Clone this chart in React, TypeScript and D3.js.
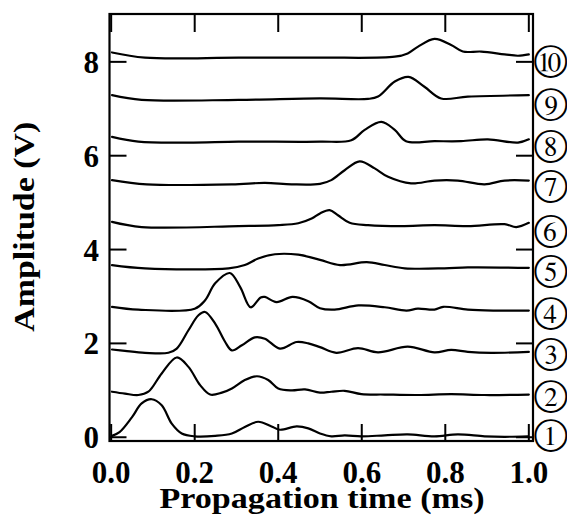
import React from "react";
import * as d3 from "d3";

type P = [number, number];

const trace1: P[] = [[0.002,0.03],[0.02,0.11],[0.05,0.43],[0.073,0.72],[0.097,0.81],[0.121,0.68],[0.145,0.29],[0.169,0.08],[0.2,0.02],[0.249,0.03],[0.289,0.08],[0.32,0.22],[0.352,0.33],[0.384,0.23],[0.404,0.16],[0.444,0.23],[0.472,0.19],[0.5,0.08],[0.527,0.02],[0.559,0.04],[0.599,0.02],[0.655,0.04],[0.71,0.06],[0.774,0.02],[0.83,0.06],[0.894,0.02],[0.942,0.01],[0.998,0.02]];
const trace2: P[] = [[0.002,0.97],[0.033,0.93],[0.065,0.90],[0.089,0.97],[0.121,1.36],[0.157,1.70],[0.185,1.50],[0.213,1.11],[0.237,0.91],[0.265,0.95],[0.289,1.04],[0.32,1.22],[0.349,1.30],[0.376,1.22],[0.4,1.04],[0.432,1.00],[0.464,1.02],[0.5,0.95],[0.527,0.97],[0.559,0.99],[0.599,0.92],[0.655,0.91],[0.734,0.90],[0.814,0.92],[0.894,0.90],[1.0,0.91]];
const trace3: P[] = [[0.002,1.87],[0.033,1.84],[0.081,1.80],[0.137,1.80],[0.157,1.89],[0.185,2.28],[0.209,2.60],[0.225,2.67],[0.249,2.42],[0.273,2.03],[0.289,1.85],[0.313,1.96],[0.344,2.13],[0.368,2.10],[0.404,1.89],[0.444,2.03],[0.472,2.00],[0.5,1.92],[0.539,1.80],[0.591,1.90],[0.639,1.81],[0.71,1.93],[0.774,1.81],[0.814,1.86],[0.854,1.82],[0.91,1.80],[1.0,1.82]];
const trace4: P[] = [[0.002,2.78],[0.065,2.72],[0.2,2.74],[0.225,2.92],[0.249,3.28],[0.284,3.50],[0.309,3.20],[0.334,2.77],[0.358,2.98],[0.368,2.99],[0.396,2.88],[0.434,2.99],[0.472,2.90],[0.5,2.75],[0.535,2.72],[0.592,2.81],[0.655,2.77],[0.707,2.70],[0.734,2.74],[0.774,2.72],[0.795,2.78],[0.854,2.72],[0.918,2.70],[1.0,2.70]];
const trace5: P[] = [[0.002,3.67],[0.081,3.60],[0.281,3.60],[0.32,3.67],[0.352,3.81],[0.392,3.90],[0.448,3.89],[0.5,3.78],[0.548,3.67],[0.612,3.73],[0.655,3.67],[0.703,3.60],[0.798,3.60],[0.854,3.62],[1.0,3.61]];
const trace6: P[] = [[0.002,4.59],[0.073,4.48],[0.305,4.50],[0.4,4.52],[0.448,4.56],[0.48,4.66],[0.5,4.77],[0.523,4.84],[0.543,4.73],[0.571,4.57],[0.615,4.52],[0.695,4.50],[0.774,4.52],[0.854,4.50],[0.942,4.54],[0.97,4.48],[1.0,4.57]];
const trace7: P[] = [[0.002,5.48],[0.085,5.39],[0.289,5.39],[0.368,5.42],[0.432,5.39],[0.5,5.40],[0.527,5.48],[0.559,5.69],[0.595,5.88],[0.631,5.73],[0.663,5.55],[0.718,5.41],[0.774,5.47],[0.83,5.47],[0.894,5.39],[0.942,5.47],[1.0,5.47]];
const trace8: P[] = [[0.002,6.40],[0.065,6.30],[0.185,6.28],[0.305,6.30],[0.5,6.30],[0.575,6.33],[0.607,6.55],[0.647,6.72],[0.679,6.55],[0.706,6.31],[0.774,6.31],[0.838,6.31],[0.902,6.35],[0.974,6.28],[1.0,6.35]];
const trace9: P[] = [[0.002,7.29],[0.073,7.19],[0.305,7.19],[0.5,7.22],[0.615,7.21],[0.639,7.26],[0.679,7.58],[0.712,7.68],[0.75,7.47],[0.79,7.22],[0.854,7.26],[1.0,7.29]];
const trace10: P[] = [[0.002,8.20],[0.081,8.09],[0.305,8.09],[0.5,8.09],[0.679,8.11],[0.71,8.18],[0.734,8.32],[0.774,8.49],[0.814,8.36],[0.842,8.22],[0.886,8.22],[0.942,8.16],[0.974,8.13],[1.0,8.16]];

const traces: P[][] = [trace1, trace2, trace3, trace4, trace5, trace6, trace7, trace8, trace9, trace10];

const traceLabels = ["①", "②", "③", "④", "⑤", "⑥", "⑦", "⑧", "⑨", "⑩"];
const traceLabelValues = [0.06, 0.90, 1.79, 2.67, 3.56, 4.41, 5.37, 6.23, 7.12, 8.04];

const xTicks = [0, 0.2, 0.4, 0.6, 0.8, 1.0];
const yTicks = [0, 2, 4, 6, 8];
const xTitle = "Propagation time (ms)";
const yTitle = "Amplitude (V)";

const W = 567;
const H = 521;
const left = 109.5;
const right = 533;
const top = 14;
const bottom = 441;

const x = d3.scaleLinear().domain([-0.004, 1.01]).range([left, right]);
const y = d3.scaleLinear().domain([-0.08, 9.02]).range([bottom, top]);

const line = d3
  .line<P>()
  .x((d) => x(d[0]))
  .y((d) => y(d[1]))
  .curve(d3.curveCatmullRom.alpha(0.5));

const serif = "'Liberation Serif', 'Times New Roman', serif";

export default function App() {
  const tickLen = 17;
  return (
    <svg
      width={W}
      height={H}
      style={{ position: "absolute", left: 0, top: 0, background: "#fff" }}
    >
      <rect x={0} y={0} width={W} height={H} fill="#fff" />
      {traces.map((t, i) => (
        <path
          key={i}
          d={line(t) || ""}
          fill="none"
          stroke="#000"
          strokeWidth={2.2}
          strokeLinejoin="round"
          strokeLinecap="round"
        />
      ))}
      <rect
        x={left}
        y={top}
        width={right - left}
        height={bottom - top}
        fill="none"
        stroke="#000"
        strokeWidth={2.2}
      />
      {xTicks.map((t) => (
        <g key={"x" + t}>
          <line x1={x(t)} x2={x(t)} y1={bottom} y2={bottom - tickLen} stroke="#000" strokeWidth={2} />
          <line x1={x(t)} x2={x(t)} y1={top} y2={top + tickLen + 1} stroke="#000" strokeWidth={2} />
          <text
            x={x(t)}
            y={483}
            textAnchor="middle"
            fontFamily={serif}
            fontWeight="bold"
            fontSize={31}
            fill="#000"
          >
            {t.toFixed(1)}
          </text>
        </g>
      ))}
      {yTicks.map((v) => (
        <g key={"y" + v}>
          <line x1={left} x2={left + tickLen} y1={y(v)} y2={y(v)} stroke="#000" strokeWidth={2} />
          <line x1={right} x2={right - tickLen} y1={y(v)} y2={y(v)} stroke="#000" strokeWidth={2} />
          <text
            x={99}
            y={y(v) + 11}
            textAnchor="end"
            fontFamily={serif}
            fontWeight="bold"
            fontSize={31}
            fill="#000"
          >
            {v}
          </text>
        </g>
      ))}
      {traceLabels.map((s, i) => (
        <text
          key={s}
          x={534}
          y={y(traceLabelValues[i])}
          dominantBaseline="central"
          fontFamily="'FreeSerif', 'Noto Sans CJK JP', sans-serif"
          fontSize={36}
          fill="#000"
        >
          {s}
        </text>
      ))}
      <text
        x={322}
        y={508}
        textAnchor="middle"
        fontFamily={serif}
        fontWeight="bold"
        fontSize={30}
        textLength={325}
        lengthAdjust="spacingAndGlyphs"
        fill="#000"
      >
        {xTitle}
      </text>
      <text
        transform={`translate(33.5, 226.7) rotate(-90)`}
        textAnchor="middle"
        fontFamily={serif}
        fontWeight="bold"
        fontSize={30}
        textLength={210}
        lengthAdjust="spacingAndGlyphs"
        fill="#000"
      >
        {yTitle}
      </text>
    </svg>
  );
}
